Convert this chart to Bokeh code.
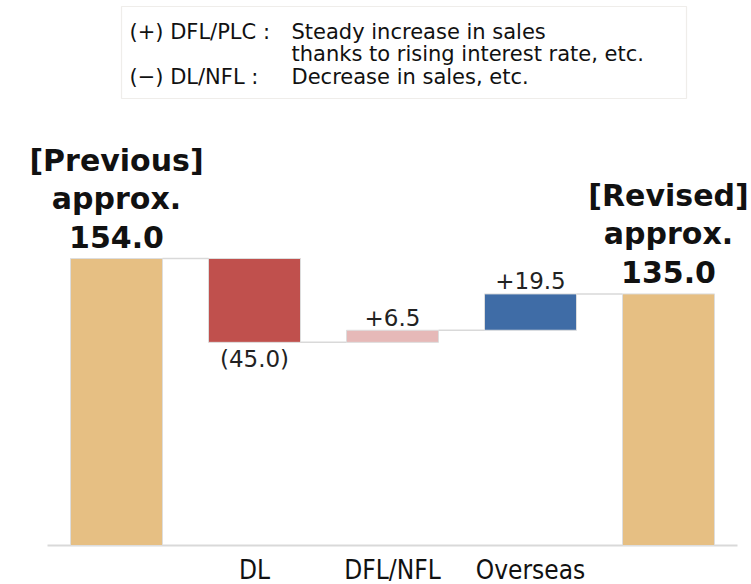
from bokeh.plotting import figure
from bokeh.models import ColumnDataSource, BoxAnnotation, Range1d
from bokeh.core.properties import value
from bokeh.embed import file_html
from bokeh.resources import INLINE

# ---------------- data ----------------
categories = ["Previous", "DL", "DFL/NFL", "Overseas", "Revised"]
tick_labels = ["", "DL", "DFL/NFL", "Overseas", ""]
amounts = [154.0, -45.0, 6.5, 19.5, 135.0]
is_total = [True, False, False, False, True]
bar_colors = ["#E6BF83", "#C0504D", "#E6B9B8", "#3F6CA6", "#E6BF83"]
total_titles = ["[Previous]", "[Revised]"]
legend_heads = ["(+) DFL/PLC :", "(\u2212) DL/NFL :"]
legend_bodies = ["Steady increase in sales",
                 "thanks to rising interest rate, etc.",
                 "Decrease in sales, etc."]

# ---------------- geometry (page pixels -> data) ----------------
W, H = 751, 584
ORIG = 0  # page offset of the figure
CAT0_PX, CAT_STEP_PX = 116.0, 138.0      # centre of first bar, spacing
BASE_PX, PX_PER_UNIT = 545.0, 287.0 / 154.0

def xd(px):
    return (px - CAT0_PX) / CAT_STEP_PX

def yd(py):
    return (BASE_PX - py) / PX_PER_UNIT

BAR_W = 92.0 / CAT_STEP_PX

# ---------------- waterfall computation ----------------
n = len(categories)
xs = list(range(n))
bottoms, tops, levels = [], [], []
level = 0.0
for amt, tot in zip(amounts, is_total):
    if tot:
        b, t = 0.0, amt
        level = amt
    else:
        b, t = level, level + amt
        level = level + amt
    bottoms.append(min(b, t))
    tops.append(max(b, t))
    levels.append(level)

p = figure(width=W, height=H, output_backend="svg", toolbar_location=None,
           x_range=Range1d(xd(ORIG), xd(ORIG + W)),
           y_range=Range1d(yd(ORIG + H), yd(ORIG)),
           min_border=0, min_border_left=0, min_border_right=0,
           min_border_top=0, min_border_bottom=0)
p.xaxis.visible = False
p.yaxis.visible = False
p.xgrid.visible = False
p.ygrid.visible = False
p.outline_line_color = None
p.background_fill_color = "white"
p.border_fill_color = "white"

# legend box
p.add_layout(BoxAnnotation(left=xd(121), right=xd(686), top=yd(6), bottom=yd(98),
                           fill_color="white", fill_alpha=1.0,
                           line_color="#C9C4BA", line_width=1.2, level="underlay"))

# baseline
p.segment(x0=[-0.5], x1=[n - 0.5], y0=[0], y1=[0], line_color="#D9D9D9", line_width=2)

# connectors
cx0 = [i + BAR_W / 2 for i in range(n - 1)]
cx1 = [i + 1 - BAR_W / 2 for i in range(n - 1)]
cy = levels[:-1]
p.segment(x0=cx0, x1=cx1, y0=cy, y1=cy, line_color="#D9D9D9", line_width=1.5)

# bars
src = ColumnDataSource(dict(x=xs, bottom=bottoms, top=tops, color=bar_colors))
p.vbar(x="x", bottom="bottom", top="top", width=BAR_W, fill_color="color",
       line_color="#DDDDDD", line_width=1, source=src)

# delta labels
dx, dy, dt, doff = [], [], [], []
for i, (amt, tot) in enumerate(zip(amounts, is_total)):
    if tot:
        continue
    dx.append(i)
    if amt < 0:
        dy.append(bottoms[i]); dt.append("(%.1f)" % abs(amt)); doff.append(17)
    else:
        dy.append(tops[i]); dt.append("+%.1f" % amt); doff.append(-13)
p.text(x=dx, y=dy, text=dt, y_offset=doff, text_align="center", text_baseline="middle",
       text_font=value("DejaVu Sans"), text_font_size="23px", text_color="#222222")

# total titles
tx, ty, tt, toff = [], [], [], []
ti = 0
for i, (amt, tot) in enumerate(zip(amounts, is_total)):
    if not tot:
        continue
    for line, off in zip([total_titles[ti], "approx.", "%.1f" % amt], [-98, -60, -22]):
        tx.append(i); ty.append(tops[i]); tt.append(line); toff.append(off)
    ti += 1
p.text(x=tx, y=ty, text=tt, y_offset=toff, text_align="center", text_baseline="middle",
       text_font=value("DejaVu Sans"), text_font_size="30px", text_font_style="bold",
       text_color="#111111")

# category labels (skip the empty ones under the totals)
lab_x = [i for i in xs if tick_labels[i]]
lab_t = [tick_labels[i] for i in xs if tick_labels[i]]
p.text(x=lab_x, y=[0] * len(lab_x), text=lab_t, y_offset=24, text_align="center",
       text_baseline="middle",
       text_font=value("'Liberation Sans Narrow', 'DejaVu Sans Condensed', sans-serif"),
       text_font_size="26px", text_color="#111111")

# legend texts
lx = [xd(129), xd(129), xd(291), xd(291), xd(291)]
ly = [yd(31), yd(76), yd(31), yd(53), yd(76)]
lt = [legend_heads[0], legend_heads[1]] + legend_bodies
p.text(x=lx, y=ly, text=lt, text_align="left", text_baseline="middle",
       text_font=value("DejaVu Sans"), text_font_size="21px", text_color="#111111")

open("out.html", "w").write(file_html(p, INLINE))
